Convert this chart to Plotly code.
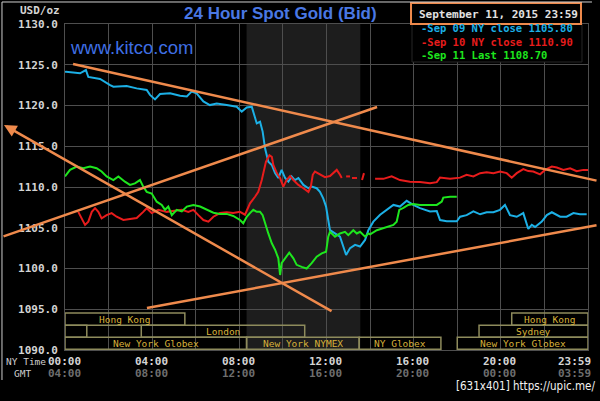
import plotly.graph_objects as go

# ---------------- data ----------------
blue_hours = [0.00, 0.05, 0.69, 0.96, 1.07, 1.61, 2.07, 2.22, 2.83, 3.29,
              3.75, 3.90, 4.13, 4.36, 4.82, 5.28, 5.59, 5.81, 6.04, 6.35,
              6.65, 6.96, 7.42, 7.88, 8.11, 8.34, 8.57, 8.67, 8.80, 8.95,
              9.07, 9.18, 9.33, 9.49, 9.64, 9.79, 9.94, 10.10, 10.25, 10.40,
              10.55, 10.71, 10.94, 11.17, 11.32, 11.55, 11.70, 11.85, 11.98, 12.08,
              12.16, 12.39, 12.62, 12.77, 12.90, 13.08, 13.31, 13.54, 13.77, 13.92,
              14.15, 14.46, 14.76, 15.07, 15.37, 15.68, 15.98, 16.29, 16.75, 17.06,
              17.21, 17.52, 17.98, 18.13, 18.43, 18.74, 19.05, 19.35, 19.66, 19.96,
              20.19, 20.42, 20.73, 21.03, 21.26, 21.42, 21.57, 21.88, 22.11, 22.34,
              22.72, 23.02, 23.33, 23.63, 23.94]
blue_prices = [1124.10, 1124.15, 1123.95, 1124.35, 1123.50, 1123.25, 1122.50, 1122.30, 1122.40, 1122.10,
               1121.90, 1121.30, 1120.75, 1121.40, 1121.50, 1121.20, 1121.10, 1121.70, 1121.50, 1120.50,
               1120.05, 1120.25, 1120.05, 1119.85, 1119.25, 1119.75, 1119.85, 1118.80, 1117.80, 1118.00,
               1116.80, 1114.75, 1113.10, 1112.70, 1111.70, 1111.10, 1112.10, 1111.10, 1110.65, 1111.30,
               1110.85, 1111.10, 1110.25, 1109.85, 1110.05, 1109.85, 1109.40, 1108.60, 1107.60, 1105.95,
               1104.70, 1104.30, 1103.90, 1102.70, 1101.65, 1102.50, 1102.90, 1102.70, 1103.50, 1104.70,
               1105.75, 1106.60, 1107.20, 1107.80, 1107.60, 1108.30, 1107.80, 1107.40, 1107.00, 1107.05,
               1105.95, 1105.80, 1105.80, 1106.35, 1106.55, 1107.00, 1106.65, 1106.90, 1106.90, 1107.20,
               1107.80, 1106.55, 1106.35, 1106.80, 1104.85, 1105.35, 1105.10, 1105.75, 1106.55, 1106.90,
               1106.35, 1106.35, 1106.80, 1106.65, 1106.65]

red_hours = [0.61, 0.77, 0.92, 1.07, 1.23, 1.38, 1.53, 1.68, 1.91, 2.14,
             2.37, 2.68, 2.98, 3.29, 3.59, 3.75, 3.98, 4.28, 4.67, 5.05,
             5.36, 5.66, 5.89, 6.12, 6.35, 6.58, 6.81, 7.11, 7.42, 7.72,
             8.03, 8.26, 8.49, 8.72, 8.87, 9.03, 9.13, 9.22, 9.38, 9.49,
             9.56, 9.72, 9.87, 10.02, 10.17, 10.33, 10.48, 10.71, 10.94, 11.17,
             11.28, 11.37, 11.47, 11.70, 11.93, 12.16, 12.31, 12.47, 12.62, 12.70,
             None, 12.90, 13.08, None, 13.17, 13.40, None, 13.63, 13.68, 13.72, None,
             14.23, 14.61, 14.99, 15.37, 15.83, 16.29, 16.75, 17.06, 17.21, 17.67,
             18.13, 18.43, 18.74, 19.05, 19.35, 19.66, 19.96, 20.27, 20.50, 20.73,
             21.03, 21.26, 21.49, 21.80, 22.03, 22.34, 22.57, 22.87, 23.18, 23.48,
             23.79, 24.00]
red_prices = [1106.95, 1106.15, 1105.35, 1105.75, 1106.95, 1107.40, 1106.95, 1106.15, 1106.55, 1106.80,
              1106.35, 1105.95, 1106.05, 1106.20, 1106.95, 1107.40, 1106.80, 1107.20, 1106.95, 1107.05,
              1107.20, 1106.95, 1107.20, 1106.55, 1105.95, 1105.75, 1106.35, 1106.80, 1106.90, 1106.80,
              1106.95, 1106.60, 1108.00, 1108.80, 1109.40, 1110.85, 1112.10, 1113.10, 1113.90, 1113.70,
              1112.70, 1111.70, 1111.10, 1110.05, 1110.85, 1111.35, 1110.85, 1110.25, 1109.85, 1109.40,
              1110.05, 1111.50, 1111.90, 1111.50, 1111.20, 1111.35, 1111.70, 1112.10, 1111.50, 1111.10,
              None, 1111.30, 1111.30, None, 1111.10, 1111.10, None, 1110.85, 1111.60, 1111.70, None,
              1111.00, 1111.00, 1111.30, 1110.85, 1110.65, 1110.60, 1110.45, 1110.60, 1111.15, 1111.00,
              1111.15, 1111.50, 1111.30, 1111.70, 1111.80, 1111.70, 1111.90, 1111.70, 1111.15, 1111.70,
              1112.20, 1111.95, 1111.90, 1111.55, 1112.10, 1112.50, 1112.40, 1112.10, 1112.30, 1111.95,
              1112.10, 1112.10]

green_hours = [0.00, 0.23, 0.54, 0.84, 1.15, 1.45, 1.68, 1.91, 2.22, 2.45,
               2.75, 2.98, 3.21, 3.44, 3.59, 3.75, 3.98, 4.21, 4.44, 4.59,
               4.74, 4.90, 5.13, 5.36, 5.59, 5.89, 6.20, 6.50, 6.81, 7.11,
               7.42, 7.72, 8.03, 8.18, 8.34, 8.49, 8.64, 8.80, 8.95, 9.07,
               9.18, 9.33, 9.49, 9.64, 9.79, 9.87, 9.94, 10.10, 10.29, 10.48,
               10.63, 10.86, 11.09, 11.32, 11.55, 11.78, 11.98, 12.08, 12.16, 12.39,
               12.62, 12.85, 13.00, 13.23, 13.39, 13.54, 13.77, 13.92, 14.00, 14.31,
               14.69, 15.07, 15.22, 15.34, 15.53, 15.75, 15.98, 16.29, 16.60, 17.06,
               17.29, 17.36, 17.67, 17.98]
green_prices = [1111.30, 1112.10, 1112.50, 1112.30, 1112.50, 1112.30, 1111.90, 1111.30, 1110.85, 1111.30,
                1110.65, 1110.25, 1110.45, 1110.85, 1110.05, 1109.40, 1109.20, 1108.20, 1107.80, 1107.20,
                1107.60, 1106.55, 1107.20, 1107.00, 1107.60, 1107.80, 1107.60, 1107.20, 1106.85, 1106.70,
                1106.70, 1106.45, 1105.95, 1105.55, 1106.35, 1106.80, 1107.20, 1106.95, 1106.95, 1106.55,
                1105.55, 1104.30, 1103.10, 1102.30, 1101.25, 1099.20, 1100.65, 1101.25, 1101.95, 1101.25,
                1100.45, 1100.20, 1100.00, 1100.65, 1101.45, 1101.85, 1102.05, 1103.90, 1104.50, 1103.90,
                1104.30, 1104.50, 1104.10, 1104.70, 1104.30, 1104.50, 1103.90, 1104.30, 1104.20, 1104.70,
                1105.00, 1105.35, 1105.75, 1107.20, 1107.45, 1107.80, 1107.90, 1107.80, 1107.80, 1107.80,
                1108.20, 1108.70, 1108.80, 1108.80]

series_labels = ["-Sep 09 NY close 1105.80", "-Sep 10 NY close 1110.90", "-Sep 11 Last 1108.70"]

grid_hours = [0, 2, 4, 6, 8, 10, 12, 14, 16, 18, 20, 22, 24]
ny_tick_hours = [0, 4, 8, 12, 16, 20, 24]
ny_tick_labels = ["00:00", "04:00", "08:00", "12:00", "16:00", "20:00", "23:59"]
gmt_tick_labels = ["04:00", "08:00", "12:00", "16:00", "20:00", "00:00", "03:59"]
price_ticks = [1090, 1095, 1100, 1105, 1110, 1115, 1120, 1125, 1130]

session_names = ["Hong Kong", "", "London", "New York Globex", "New York NYMEX",
                 "NY Globex", "New York Globex", "Sydney", "Hong Kong"]
session_start = [0.0, 0.0, 3.5, 0.0, 8.333, 13.5, 18.0, 19.0, 20.5]
session_end = [5.5, 1.0, 11.0, 8.333, 13.5, 17.25, 24.0, 24.0, 24.0]
session_row = [0, 1, 1, 2, 2, 2, 2, 1, 0]

nymex_pit_hours = [8.333, 13.55]

# hand-drawn trend lines (hour, price) start -> end
trend_x0 = [0.37, 14.32, -2.80, 3.76]
trend_y0 = [1125.09, 1119.82, 1117.61, 1095.15]
trend_x1 = [24.46, -2.89, 12.30, 24.46]
trend_y1 = [1110.74, 1103.87, 1094.66, 1105.34]
trend_arrow = [0, 0, 2, 0]

date_text = "September 11, 2015 23:59"

# ---------------- styling ----------------
BLUE = "#1cb0e6"
RED = "#e81c1c"
GREEN = "#1ee61e"
ORANGE = "#ef8a4c"
GRID = "#4e4e4e"
MONO = "DejaVu Sans Mono"
row_bands = {0: (1093.05, 1094.55), 1: (1091.55, 1093.05), 2: (1090.1, 1091.55)}

fig = go.Figure()
for xs, ys, c, name in [(blue_hours, blue_prices, BLUE, series_labels[0]),
                        (red_hours, red_prices, RED, series_labels[1]),
                        (green_hours, green_prices, GREEN, series_labels[2])]:
    fig.add_trace(go.Scatter(x=xs, y=ys, mode="lines", name=name,
                             line=dict(color=c, width=2), connectgaps=False,
                             hoverinfo="skip"))

shapes = []
# NYMEX pit shading
shapes.append(dict(type="rect", xref="x", yref="y", x0=nymex_pit_hours[0], x1=nymex_pit_hours[1],
                   y0=1090, y1=1130, fillcolor="#1d1d1d", line=dict(width=0), layer="below"))
# session boxes
annotations = []
for name, s, e, r in zip(session_names, session_start, session_end, session_row):
    y0, y1 = row_bands[r]
    shapes.append(dict(type="rect", xref="x", yref="y", x0=s, x1=e, y0=y0, y1=y1,
                       line=dict(color="#8e8b5c", width=1.5), fillcolor="rgba(0,0,0,0)", layer="above"))
    if name:
        annotations.append(dict(x=(s + e) / 2, y=(y0 + y1) / 2, xref="x", yref="y", text=name,
                                showarrow=False, font=dict(family=MONO, size=9.5, color="#d8b23a")))

# legend box + date box
shapes.append(dict(type="rect", xref="paper", yref="paper", x0=0.6635, x1=0.9885, y0=0.8834, y1=1.0,
                   fillcolor="black", line=dict(color="#262626", width=1), layer="above"))
shapes.append(dict(type="rect", xref="paper", yref="paper", x0=0.6616, x1=0.9866, y0=1.0, y1=1.0644,
                   fillcolor="black", line=dict(color=ORANGE, width=2), layer="above"))
# frame lines
shapes.append(dict(type="line", xref="paper", yref="paper", x0=-0.1205, x1=1.0076, y0=1.0675, y1=1.0675,
                   line=dict(color="#cfcfcf", width=1)))
shapes.append(dict(type="line", xref="paper", yref="paper", x0=-0.1205, x1=-0.1205, y0=1.0675, y1=-0.092,
                   line=dict(color="#cfcfcf", width=1)))

# trend lines
for x0, y0, x1, y1, ah in zip(trend_x0, trend_y0, trend_x1, trend_y1, trend_arrow):
    annotations.append(dict(x=x0, y=y0, ax=x1, ay=y1, xref="x", yref="y", axref="x", ayref="y",
                            text=" ", font=dict(size=1), showarrow=True, arrowhead=ah, arrowsize=1,
                            arrowwidth=2.5, arrowcolor=ORANGE, standoff=0, startstandoff=0))

# x tick labels (NY time + GMT)
for h, ny, gmt in zip(ny_tick_hours, ny_tick_labels, gmt_tick_labels):
    anchor = "right" if h >= 24 else "center"
    shift = 5 if h >= 24 else -1
    annotations.append(dict(x=h, y=-0.0368, xref="x", yref="paper", text=ny, showarrow=False,
                            xanchor=anchor, yanchor="middle", xshift=shift,
                            font=dict(family=MONO, size=11, color="#d4d4d4", weight="bold")))
    annotations.append(dict(x=h, y=-0.0736, xref="x", yref="paper", text=gmt, showarrow=False,
                            xanchor=anchor, yanchor="middle", xshift=shift,
                            font=dict(family=MONO, size=11, color="#6e6e6e", weight="bold")))
annotations.append(dict(x=-0.0755, y=-0.0368, xref="paper", yref="paper", text="NY Time", showarrow=False,
                        xanchor="center", yanchor="middle", font=dict(family=MONO, size=9.5, color="#cfcfcf")))
annotations.append(dict(x=-0.0822, y=-0.0736, xref="paper", yref="paper", text="GMT", showarrow=False,
                        xanchor="center", yanchor="middle", font=dict(family=MONO, size=9.5, color="#cfcfcf")))

# texts
annotations.append(dict(x=0.413, y=1.0337, xref="paper", yref="paper", text="24 Hour Spot Gold (Bid)",
                        showarrow=False, xanchor="center", yanchor="middle",
                        font=dict(family="Liberation Sans", size=17, color="#4a78e4", weight="bold")))
annotations.append(dict(x=0.0057, y=0.9264, xref="paper", yref="paper", text="www.kitco.com",
                        showarrow=False, xanchor="left", yanchor="middle",
                        font=dict(family="Liberation Sans", size=18.5, color="#3f6fe4")))
annotations.append(dict(x=-0.0057, y=1.0429, xref="paper", yref="paper", text="USD/oz",
                        showarrow=False, xanchor="right", yanchor="middle",
                        font=dict(family=MONO, size=11, color="#d4d4d4", weight="bold")))
annotations.append(dict(x=0.8289, y=1.0291, xref="paper", yref="paper", text=date_text,
                        showarrow=False, xanchor="center", yanchor="middle",
                        font=dict(family=MONO, size=11, color="#e2e2e2", weight="bold")))
legend_text = "<br>".join(f"<span style='color:{c}'>{lbl}</span>"
                          for lbl, c in zip(series_labels, [BLUE, RED, GREEN]))
annotations.append(dict(x=0.6788, y=0.9448, xref="paper", yref="paper", text=legend_text,
                        showarrow=False, xanchor="left", yanchor="middle", align="left", borderpad=0,
                        font=dict(family=MONO, size=10.5, color=BLUE, weight="bold")))
annotations.append(dict(x=1.0172, y=-0.1104, xref="paper", yref="paper", text="[631x401] https://upic.me/",
                        showarrow=False, xanchor="right", yanchor="middle",
                        font=dict(family="DejaVu Sans Condensed, DejaVu Sans", size=11.5, color="#f2f2f2")))

fig.update_layout(
    width=600, height=401,
    margin=dict(l=65, r=12, t=24, b=51),
    paper_bgcolor="black", plot_bgcolor="black",
    showlegend=False,
    shapes=shapes, annotations=annotations,
    xaxis=dict(range=[0, 24], tickvals=grid_hours, showticklabels=False, showgrid=True,
               gridcolor=GRID, gridwidth=1, zeroline=False, showline=True, mirror=True,
               linecolor=GRID, linewidth=1, ticks="", automargin=False),
    yaxis=dict(range=[1090, 1130], tickvals=price_ticks, ticktext=[f"{v:.1f}" for v in price_ticks],
               showgrid=True, gridcolor=GRID, gridwidth=1, zeroline=False, showline=True, mirror=True,
               linecolor=GRID, linewidth=1, ticks="outside", ticklen=4, tickcolor="rgba(0,0,0,0)",
               automargin=False,
               tickfont=dict(family=MONO, size=11, color="#d4d4d4", weight="bold")),
)

fig.write_html("out.html", config={"displayModeBar": False},
               post_script="document.body.style.margin='0';document.body.style.background='black';")
